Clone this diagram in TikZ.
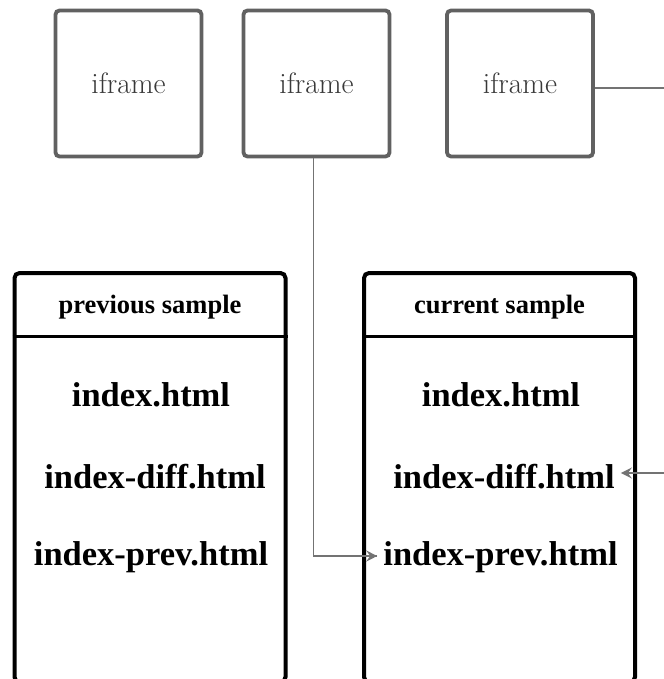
\documentclass[tikz,border=0pt]{standalone}
\usepackage{fontspec}
\newfontfamily\garafont{Liberation Serif}
\usetikzlibrary{arrows.meta}
\begin{document}
\begin{tikzpicture}[x=1pt,y=-1pt,
  frame/.style={draw=black!62, line width=3.8pt, rounded corners=4pt, minimum width=146pt, minimum height=146pt, inner sep=0pt, font=\fontsize{29.5}{32}\selectfont, text=black!78},
  samplebox/.style={draw=black, line width=4pt, rounded corners=5pt, minimum width=271pt, minimum height=409pt, inner sep=0pt},
  title/.style={font=\garafont\bfseries\fontsize{26.5}{30}\selectfont, inner sep=0pt},
  file/.style={font=\garafont\bfseries\fontsize{34.5}{38}\selectfont, inner sep=6pt},
  conn/.style={draw=black!55, line width=1.8pt},
  tip/.style={-{Stealth[length=11pt,width=11pt,inset=4pt]}}
]
\useasboundingbox (0,0) rectangle (663,679);
\fill[white] (0,0) rectangle (663,679);
% iframes
\node[frame] (if1) at (128.5,83.5) {iframe};
\node[frame] (if2) at (316.5,83.5) {iframe};
\node[frame] (if3) at (520,83.5) {iframe};
% sample boxes
\node[samplebox] (prev) at (150,477.5) {};
\node[samplebox] (cur) at (499.5,477.5) {};
\draw[line width=3pt] (prev.west |- 0,336) -- (prev.east |- 0,336);
\draw[line width=3pt] (cur.west |- 0,336) -- (cur.east |- 0,336);
\node[title] (pt) at (150,307) {previous sample};
\node[title] (ct) at (499.5,307) {current sample};
% files
\node[file] (pi) at (151,395) {index.html};
\node[file] (pd) at (155,477) {index-diff.html};
\node[file] (pp) at (151,557) {index-prev.html};
\node[file] (ci) at (501,395) {index.html};
\node[file] (cd) at (504,477) {index-diff.html};
\node[file] (cp) at (500.5,557) {index-prev.html};
% connectors
\coordinate (r1) at (665,88);
\coordinate (r2) at (665,473);
\draw[conn] ([xshift=-3pt]if2.south) |- ([yshift=1pt]cp.west);
\draw[conn,tip] ([xshift=-14pt,yshift=1pt]cp.west) -- ([yshift=1pt]cp.west);
\draw[conn] ([yshift=-4.5pt]if3.east) -- (r1);
\draw[conn,tip] (r2) -- ([yshift=4pt]cd.east);
\end{tikzpicture}
\end{document}
